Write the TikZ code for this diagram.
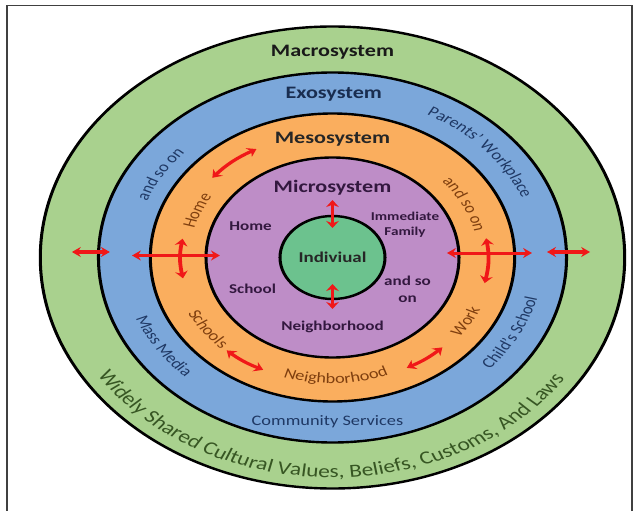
\documentclass[tikz,border=0pt]{standalone}
\usepackage{fontspec}
\setmainfont{Carlito}
\usetikzlibrary{arrows.meta,positioning,decorations.text}
\definecolor{macrogreen}{HTML}{A9D18E}
\definecolor{exoblue}{HTML}{7BA7DA}
\definecolor{mesoorange}{HTML}{FAAE5E}
\definecolor{micropurple}{HTML}{BE8DC7}
\definecolor{indivgreen}{HTML}{6CC28E}
\definecolor{linkred}{HTML}{F01818}
\definecolor{macroink}{HTML}{375623}
\definecolor{exoink}{HTML}{1F3864}
\definecolor{mesoink}{HTML}{7F3F0F}
\definecolor{microink}{HTML}{33183F}
\newcommand\ringtitle{\fontsize{17.5}{20}\selectfont\bfseries}
\newcommand\microtext{\fontsize{13.5}{17}\selectfont\bfseries}
\newcommand\ringtext{\fontsize{14.5}{16}\selectfont}
\newcommand\macrotext{\fontsize{18.5}{20}\selectfont}
\tikzset{
  ring/.style={circle,draw=black,line width=2.4pt,inner sep=0pt},
  link/.style={draw=linkred,line width=3pt,
    {Stealth[length=7pt,width=10pt]}-{Stealth[length=7pt,width=10pt]}},
  arclabel/.style={decorate,decoration={text along path,text align=center,text={#1}}}
}

\begin{document}
\begin{tikzpicture}[x=1pt,y=1pt]
\useasboundingbox (-332.5,-253.5) rectangle (306.5,257.5);
\draw[line width=1.2pt,black!75] (299.5,-253.5) -- (299.5,252) -- (-325.5,252) -- (-325.5,-253.5);

\begin{scope}[transform canvas={xscale=1.265}]
% the rings
\node[ring,fill=macrogreen,minimum size=462pt] (macroring) at (0,0) {};
\node[ring,fill=exoblue,minimum size=370pt] (exoring) at (0,0) {};
\node[ring,fill=mesoorange,minimum size=288pt] (mesoring) at (0,0) {};
\node[ring,fill=micropurple,minimum size=200pt] (microring) at (0,0) {};
\node[ring,fill=indivgreen,minimum size=83pt] (indivring) at (0,0) {};

% titles
\node[font=\ringtitle,text=black!90] (macro) at (0,205.5) {Macrosystem};
\node[font=\ringtitle,text=exoink!80!black] (exo) at (1,163.5) {Exosystem};
\node[font=\ringtitle,text=black!85] (meso) at (0,118.5) {Mesosystem};
\node[font=\ringtitle,text=microink] (micro) at (0,69.5) {Microsystem};
\node[font=\fontsize{15}{17}\selectfont\bfseries,text=black!85] (indiv) at (indivring) {Indiviual};

% microsystem
\node[font=\microtext,text=microink] (mhome) at (-64.8,31.5) {Home};
\node[font=\microtext,text=microink] (mschool) at (-63.2,-31.5) {School};
\node[font=\fontsize{12}{15}\selectfont\bfseries,text=microink,align=center] (mfamily) at (57.3,33) {Immediate\\Family};
\node[font=\microtext,text=microink,align=center] (mmore) at (59.3,-32) {and so\\on};
\node[font=\microtext,text=microink] (mneigh) at (0,-69.5) {Neighborhood};

% mesosystem
\path[arclabel={|\ringtext\color{mesoink}|Home}] (196.4:113) arc[start angle=196.4,end angle=116.4,radius=113];
\path[arclabel={|\ringtext\color{mesoink}|and so on}] (67:115) arc[start angle=67,end angle=-13,radius=115];
\path[arclabel={|\ringtext\color{mesoink}|Schools}] (176:127) arc[start angle=176,end angle=256,radius=127];
\path[arclabel={|\ringtext\color{mesoink}|Neighborhood}] (221.3:126) arc[start angle=221.3,end angle=321.3,radius=126];
\path[arclabel={|\ringtext\color{mesoink}|Work}] (288.7:128) arc[start angle=288.7,end angle=368.7,radius=128];

% exosystem
\path[arclabel={|\ringtext\color{exoink}|and so on}] (188.5:157) arc[start angle=188.5,end angle=108.5,radius=157];
\path[arclabel={|\ringtext\color{exoink}|Parents’ Workplace}] (102:161) arc[start angle=102,end angle=-18,radius=161];
\path[arclabel={|\ringtext\color{exoink}|Mass Media}] (163.6:167) arc[start angle=163.6,end angle=263.6,radius=167];
\path[arclabel={|\ringtext\color{exoink}|Child’s School}] (282:167) arc[start angle=282,end angle=382,radius=167];
\node[font=\ringtext,text=exoink] (community) at (-4,-164.5) {Community Services};

% macrosystem
\path[arclabel={|\macrotext\color{macroink}|Widely Shared Cultural Values, Beliefs, Customs, And Laws}] (179.5:220) arc[start angle=179.5,end angle=359.5,radius=220];

% links
\coordinate (ml1) at (-206,5.5); \coordinate (ml2) at (-176,5.5);
\coordinate (hl1) at (-158.5,2); \coordinate (hl2) at (-89,2);
\coordinate (hr1) at (90.5,4.5); \coordinate (hr2) at (157.7,4.5);
\coordinate (mr1) at (169.6,5.5); \coordinate (mr2) at (203.6,5.5);
\coordinate (it1) at (0,57.5); \coordinate (it2) at (0,29.5);
\coordinate (ib1) at (0,-26.5); \coordinate (ib2) at (0,-51.5);
\coordinate (vl1) at (171:120); \coordinate (vl2) at (190:120);
\coordinate (vr1) at (9:123); \coordinate (vr2) at (-12:123);
\coordinate (ul1) at (140:124); \coordinate (ul2) at (119:124);
\coordinate (bl1) at (228:125); \coordinate (bl2) at (244:125);
\coordinate (br1) at (298:125); \coordinate (br2) at (314:125);

\draw[link] (ml1) -- (ml2);
\draw[link] (hl1) -- (hl2);
\draw[link] (hr1) -- (hr2);
\draw[link] (mr1) -- (mr2);
\draw[link] (it1) -- (it2);
\draw[link] (ib1) -- (ib2);
\draw[link] (vl1) to[bend right=10] (vl2);
\draw[link] (vr1) to[bend left=10] (vr2);
\draw[link] (ul1) to[bend left=10] (ul2);
\draw[link] (bl1) to[bend right=8] (bl2);
\draw[link] (br1) to[bend right=8] (br2);
\end{scope}
\end{tikzpicture}
\end{document}
